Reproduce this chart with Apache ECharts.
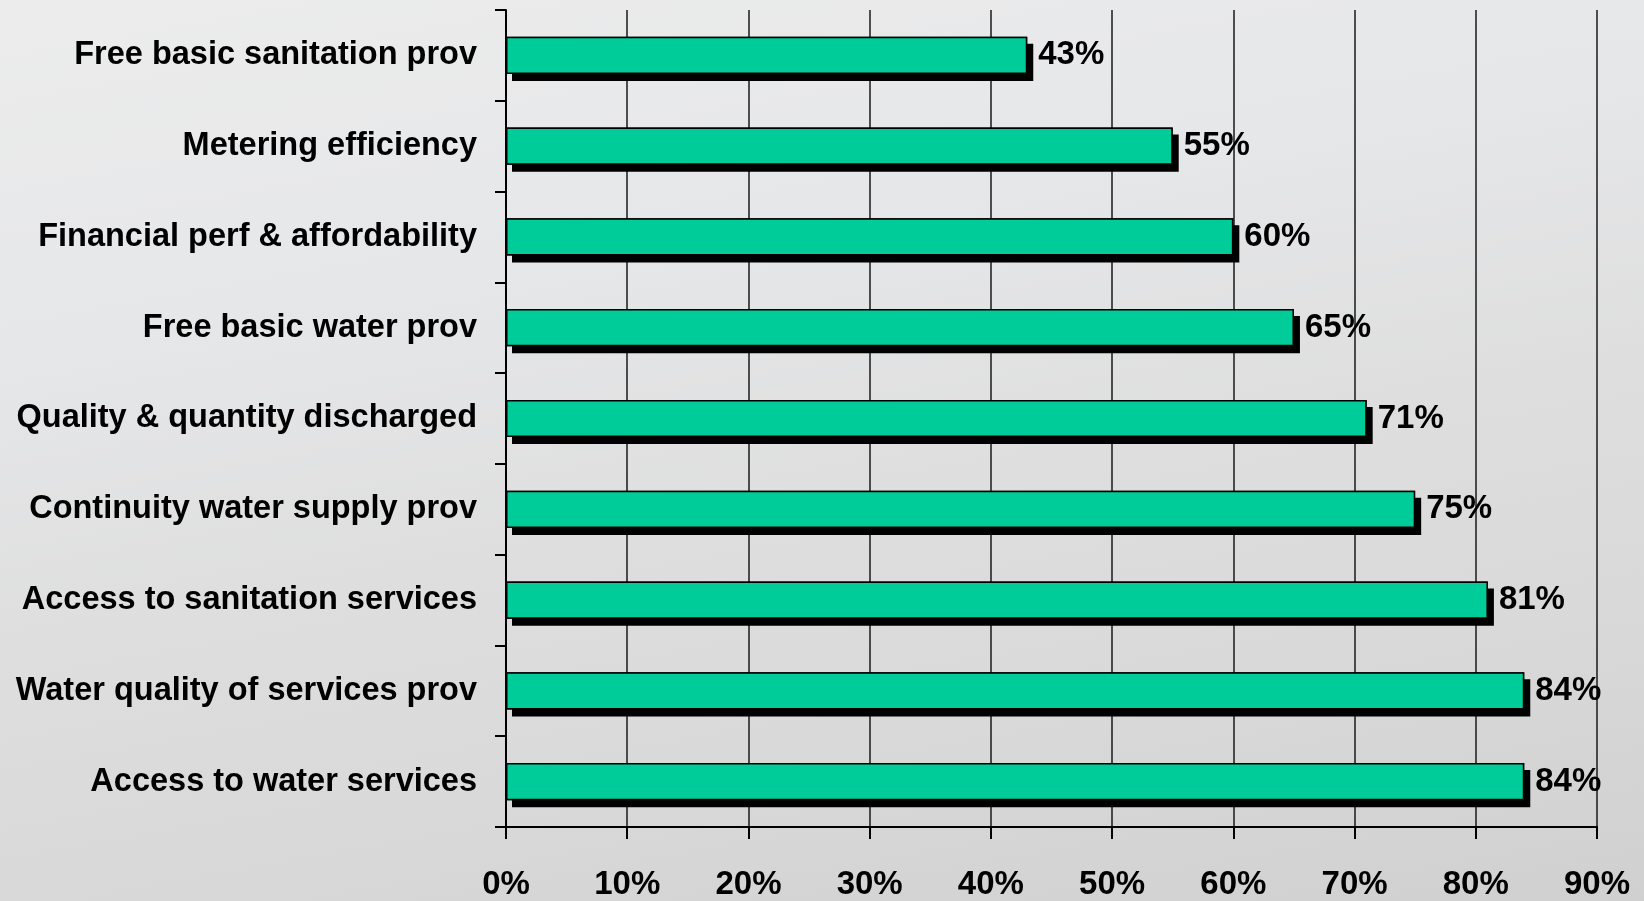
<!DOCTYPE html>
<html lang="en">
<head>
    <meta charset="UTF-8">
    <title>Service indicators</title>
    <script type="text/javascript" src="https://cdn.jsdelivr.net/npm/echarts@6/dist/echarts.min.js"></script>
    <style>
        html, body { margin: 0; padding: 0; }
        body {
            width: 1644px; height: 901px; overflow: hidden;
            background: linear-gradient(170deg, #ececec 0%, #e6e7e9 30%, #dedede 55%, #d9d9d9 75%, #d0d0d0 100%);
        }
    </style>
</head>
<body>
<div id="bar" style="width: 1644px;height:901px;"></div>
<script>

    // categories from bottom to top (echarts draws the first one at the bottom)
    var categories = [
        'Access to water services',
        'Water quality of services prov',
        'Access to sanitation services',
        'Continuity water supply prov',
        'Quality & quantity discharged',
        'Free basic water prov',
        'Financial perf & affordability',
        'Metering efficiency',
        'Free basic sanitation prov'
    ];
    var values = [84, 84, 81, 75, 71, 65, 60, 55, 43];
    var xTicks = [0, 10, 20, 30, 40, 50, 60, 70, 80, 90];

    var font = 'Liberation Sans, Arial, sans-serif';

    option = {
        backgroundColor: 'transparent',
        animation: false,
        grid: {
            left: 506,
            right: 47,
            top: 10,
            bottom: 73
        },
        xAxis: {
            type: 'value',
            min: xTicks[0],
            max: xTicks[xTicks.length - 1],
            interval: 10,
            axisLine: {show: true, lineStyle: {color: '#000', width: 2}},
            axisTick: {show: true, length: 12, lineStyle: {color: '#000', width: 2}},
            splitLine: {show: true, lineStyle: {color: '#1a1a1a', width: 1.5}},
            axisLabel: {
                margin: 41,
                color: '#000',
                fontFamily: font,
                fontWeight: 'bold',
                fontSize: 33,
                formatter: '{value}%'
            }
        },
        yAxis: {
            type: 'category',
            data: categories,
            axisLine: {show: true, lineStyle: {color: '#000', width: 2}},
            axisTick: {show: true, length: 11, alignWithLabel: false, lineStyle: {color: '#000', width: 2}},
            splitLine: {show: false},
            axisLabel: {
                margin: 29,
                color: '#000',
                fontFamily: font,
                fontWeight: 'bold',
                fontSize: 32.5,
                padding: [4, 0, 0, 0]
            }
        },
        series: [{
            // drop shadow, drawn behind the bars
            type: 'bar',
            data: values,
            barWidth: '41%',
            silent: true,
            itemStyle: {
                color: '#000',
                shadowColor: '#000',
                shadowBlur: 0,
                shadowOffsetX: 6,
                shadowOffsetY: 7
            }
        }, {
            type: 'bar',
            data: values,
            barWidth: '41%',
            barGap: '-100%',
            itemStyle: {
                color: '#00cc99',
                borderColor: '#000',
                borderWidth: 1.5
            },
            label: {
                show: true,
                position: 'right',
                distance: 11,
                formatter: '{c}%',
                color: '#000',
                fontFamily: font,
                fontWeight: 'bold',
                fontSize: 33,
                padding: [3, 0, 0, 0]
            }
        }]
    };
    var myChart = echarts.init(document.getElementById('bar'));
    myChart.setOption(option);

</script>
</body>
</html>
